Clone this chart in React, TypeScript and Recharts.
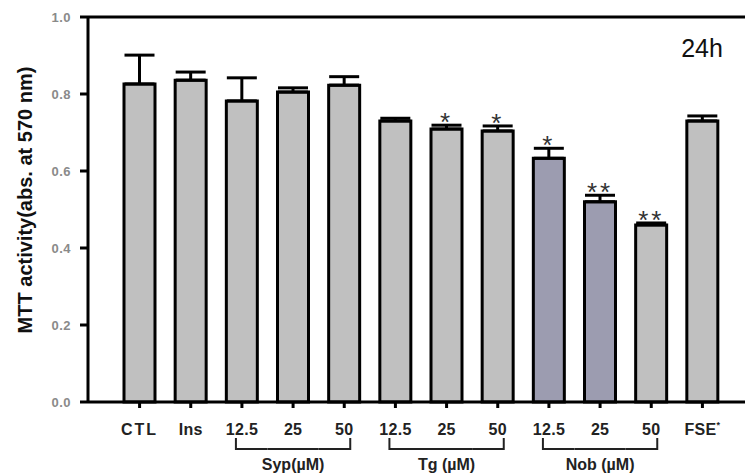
import {
  ComposedChart,
  Bar,
  Line,
  XAxis,
  YAxis,
  ErrorBar,
  Cell,
  LabelList,
  ReferenceLine,
} from "recharts";

const categories = [
  "CTL", "Ins", "Syp12.5", "Syp25", "Syp50", "Tg12.5",
  "Tg25", "Tg50", "Nob12.5", "Nob25", "Nob50", "FSE",
];
const tickLabels = ["CTL", "Ins", "12.5", "25", "50", "12.5", "25", "50", "12.5", "25", "50", "FSE"];
const means = [0.826, 0.836, 0.782, 0.805, 0.823, 0.730, 0.709, 0.704, 0.633, 0.520, 0.460, 0.730];
const sems = [0.075, 0.021, 0.060, 0.011, 0.022, 0.007, 0.010, 0.013, 0.026, 0.017, 0.005, 0.013];
const stars = ["", "", "", "", "", "", "*", "*", "*", "**", "**", ""];
const yTicks = [0, 0.2, 0.4, 0.6, 0.8, 1.0];
const groups = [
  { name: "Syp(\u00b5M)", start: 2, end: 4 },
  { name: "Tg (\u00b5M)", start: 5, end: 7 },
  { name: "Nob (\u00b5M)", start: 8, end: 10 },
];

const data = categories.map((c, i) => ({
  key: c,
  label: tickLabels[i],
  mean: means[i],
  err: [0, sems[i]],
  top: means[i] + sems[i],
  star: stars[i],
}));

const CHART_W = 770;
const PLOT_LEFT = 88;
const PLOT_RIGHT = 760;
const PAD_L = 26;
const PAD_R = 32;
const BAND = (PLOT_RIGHT - PLOT_LEFT - PAD_L - PAD_R) / categories.length;

const font = "Arial, 'Liberation Sans', sans-serif";

// tick label + the bracket / group name under each dose group
const CategoryTick = (props: any) => {
  const { x, y, payload } = props;
  const i = payload.index;
  const label = tickLabels[i];
  const g = groups.find((gr) => i >= gr.start && i <= gr.end);
  const by = y + 37;
  let bracket = null;
  if (g) {
    const x1 = i === g.start ? x - 6 : x - BAND / 2;
    const x2 = i === g.end ? x + 6 : x + BAND / 2;
    bracket = (
      <g stroke="#222" strokeWidth={2}>
        <line x1={x1} x2={x2} y1={by} y2={by} />
        {i === g.start && <line x1={x1} x2={x1} y1={by - 11} y2={by + 1} />}
        {i === g.end && <line x1={x2} x2={x2} y1={by - 11} y2={by + 1} />}
      </g>
    );
  }
  const mid = g && i === (g.start + g.end) / 2;
  return (
    <g>
      <text
        x={x}
        y={y + 23}
        textAnchor="middle"
        fontFamily={font}
        fontWeight="bold"
        fontSize={16}
        fill="#222"
        letterSpacing={label === "CTL" ? 2 : 0.3}
      >
        {label}
        {label === "FSE" && (
          <tspan fontSize={9} dy={-7}>
            *
          </tspan>
        )}
      </text>
      {bracket}
      {mid && (
        <text
          x={x}
          y={by + 21}
          textAnchor="middle"
          fontFamily={font}
          fontWeight="bold"
          fontSize={16}
          fill="#222"
        >
          {g.name}
        </text>
      )}
    </g>
  );
};

const StarLabel = (props: any) => {
  const { x, y, value } = props;
  if (!value) return null;
  return (
    <text
      x={x}
      y={y + 6}
      textAnchor="middle"
      fontFamily={font}
      fontSize={26}
      fill="#333"
      letterSpacing={3}
    >
      {value}
    </text>
  );
};

const YLabel = () => (
  <text
    x={0}
    y={0}
    transform="translate(32, 200) rotate(-90)"
    textAnchor="middle"
    fontFamily={font}
    fontWeight="bold"
    fontSize={20}
    fill="#111"
  >
    MTT activity(abs. at 570 nm)
  </text>
);

export default function App() {
  return (
    <div
      style={{
        position: "fixed",
        top: 0,
        left: 0,
        width: 745,
        height: 476,
        overflow: "hidden",
        background: "#fff",
      }}
    >
      <ComposedChart
        width={CHART_W}
        height={476}
        data={data}
        margin={{ top: 17, right: CHART_W - PLOT_RIGHT, left: 28, bottom: 14 }}
      >
        <ReferenceLine y={1} stroke="#000" strokeWidth={3} />
        <XAxis
          dataKey="key"
          type="category"
          padding={{ left: PAD_L, right: PAD_R }}
          height={60}
          axisLine={{ stroke: "#000", strokeWidth: 3 }}
          tickLine={{ stroke: "#000", strokeWidth: 3 }}
          tickSize={6}
          tickMargin={4}
          interval={0}
          tick={<CategoryTick />}
        />
        <YAxis
          type="number"
          domain={[0, 1]}
          ticks={yTicks}
          width={60}
          axisLine={{ stroke: "#000", strokeWidth: 3 }}
          tickLine={{ stroke: "#000", strokeWidth: 3 }}
          tickSize={8}
          tickMargin={9}
          tickFormatter={(v: number) => v.toFixed(1)}
          tick={{ fill: "#8a8a8a", fontSize: 13, fontWeight: "bold", fontFamily: font, letterSpacing: 0.5 }}
          label={<YLabel />}
        />
        <Bar
          dataKey="mean"
          barSize={31}
          stroke="#000"
          strokeWidth={3}
          isAnimationActive={false}
        >
          {data.map((d, i) => (
            <Cell key={d.key} fill={i === 8 || i === 9 ? "#9c9cb0" : "#c0c0c0"} />
          ))}
          <ErrorBar dataKey="err" direction="y" width={15} stroke="#000" strokeWidth={3} />
        </Bar>
        <Line
          dataKey="top"
          stroke="none"
          dot={false}
          activeDot={false}
          isAnimationActive={false}
        >
          <LabelList dataKey="star" content={<StarLabel />} />
        </Line>
        <text x={702} y={57} textAnchor="middle" fontFamily={font} fontSize={25} fill="#111">
          24h
        </text>
      </ComposedChart>
    </div>
  );
}
